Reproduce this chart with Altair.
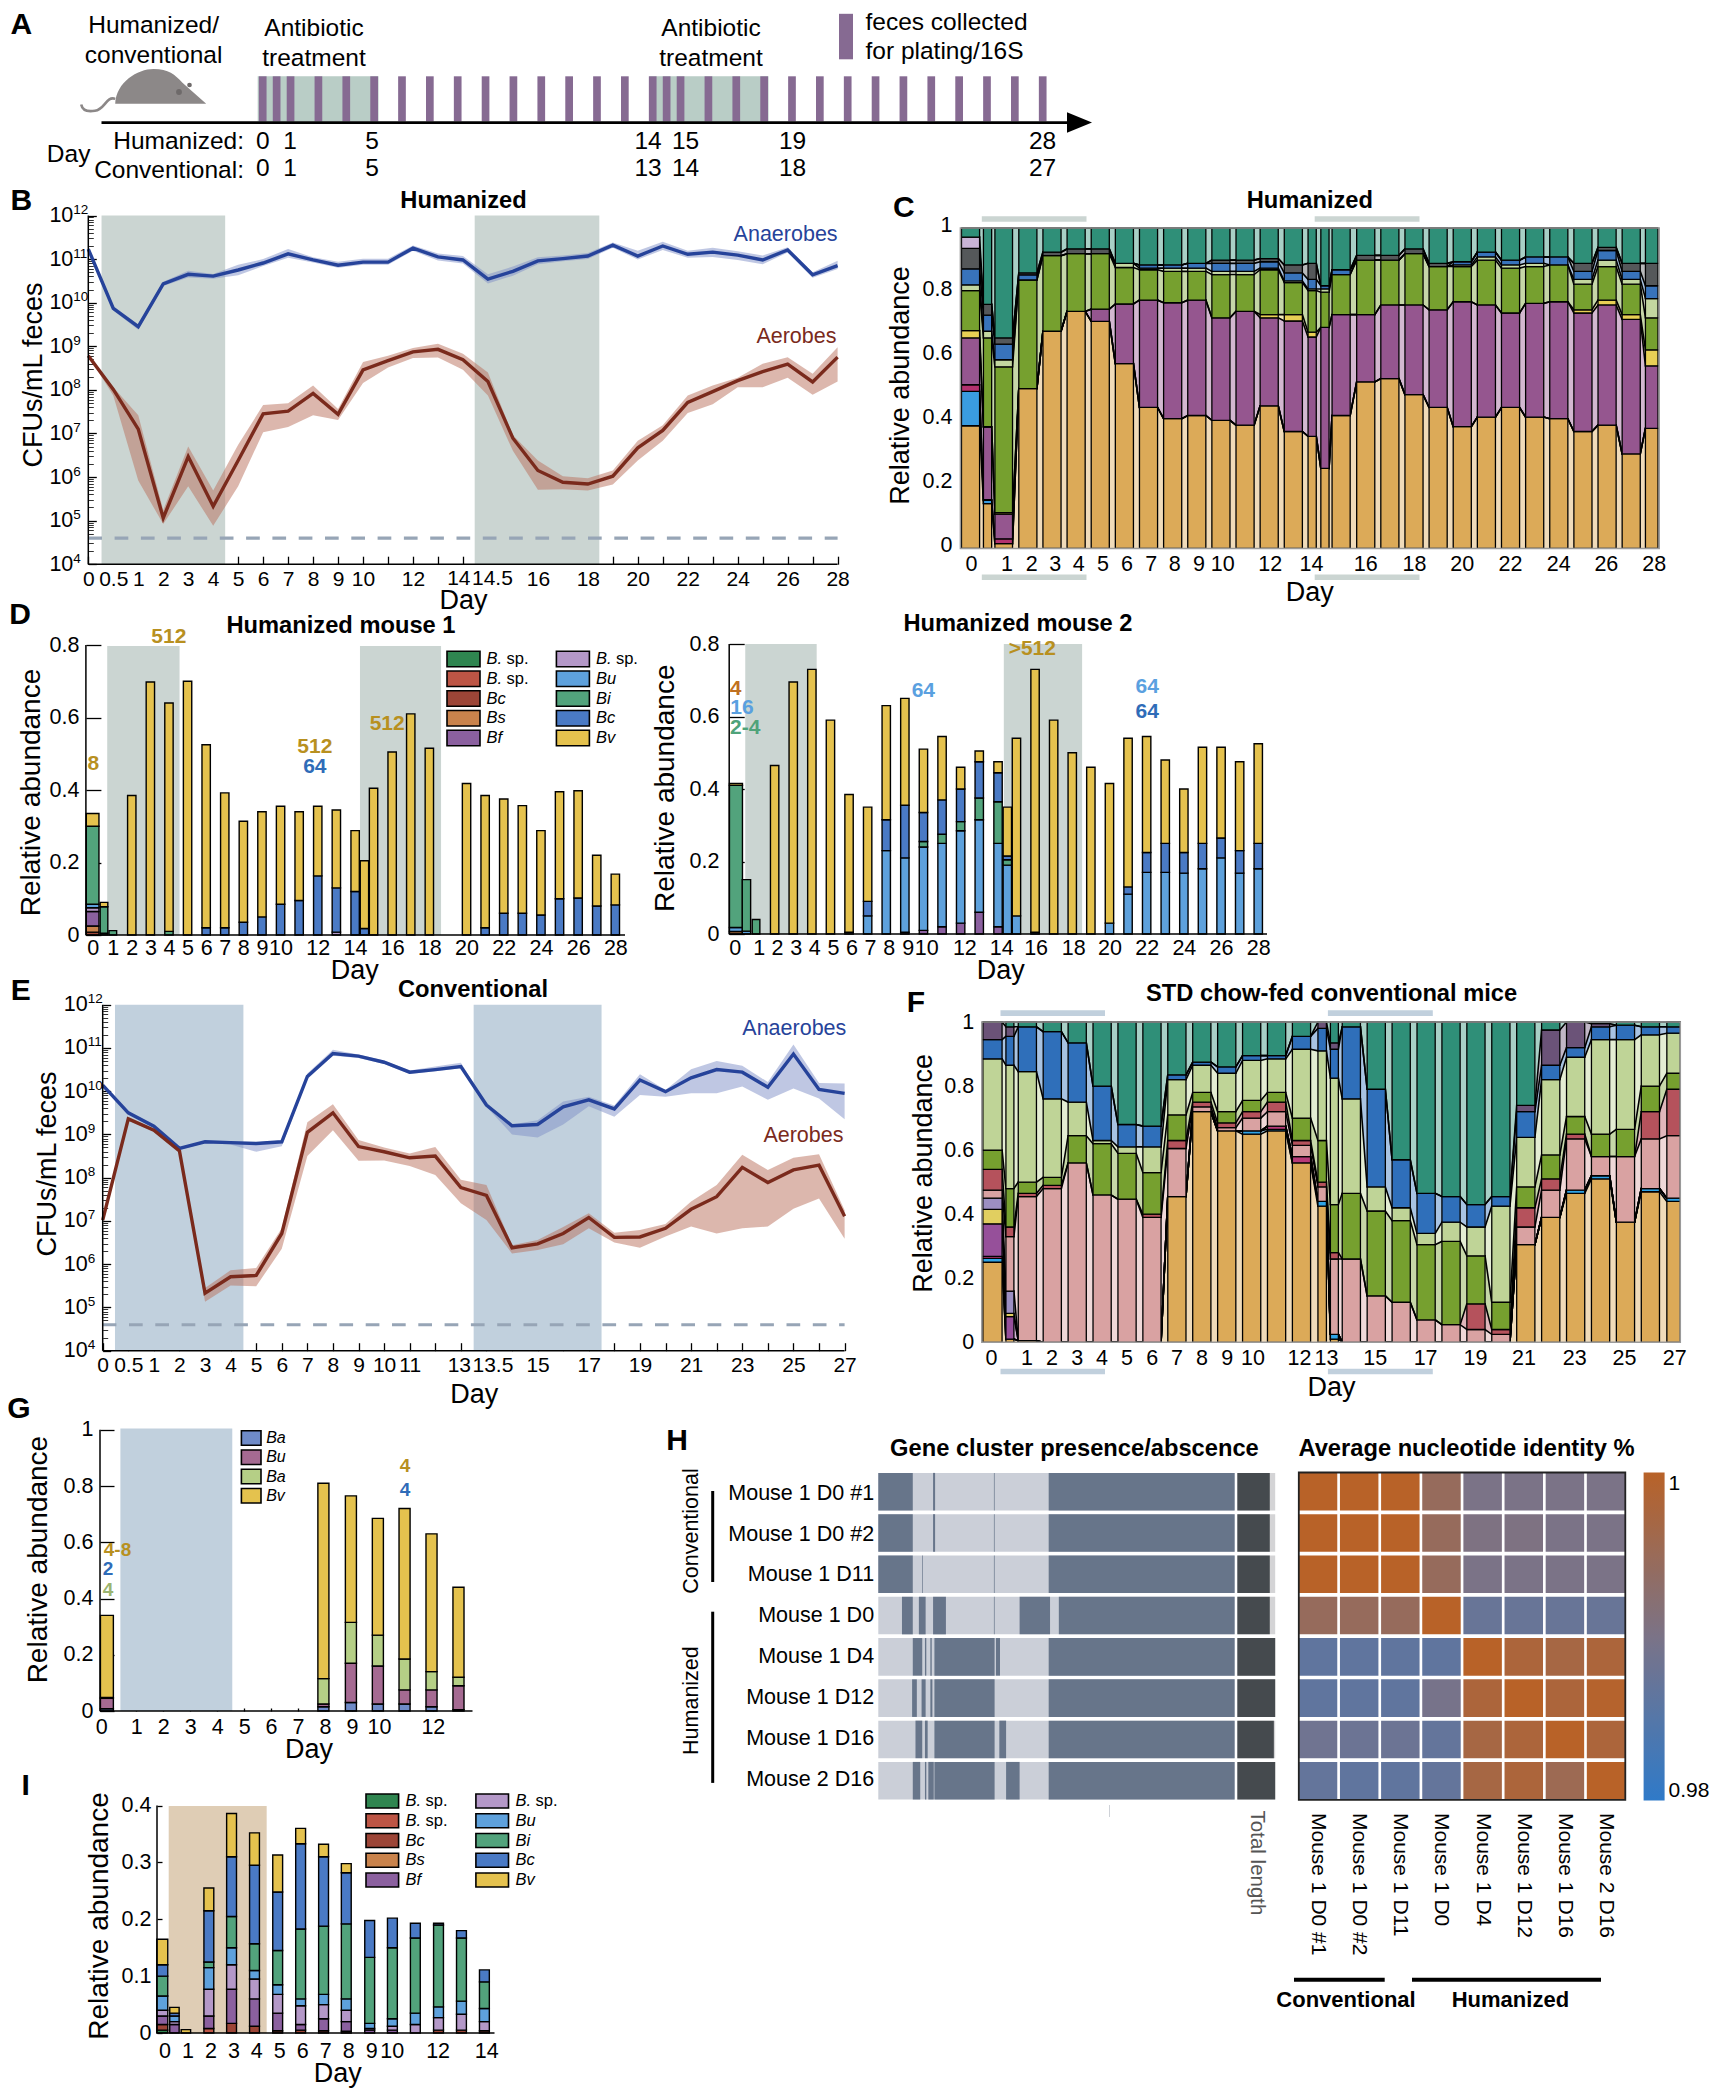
import json
import altair as alt
import pandas as pd

W, H, M = 1704, 2084, 8
F = "Liberation Sans"
ONE = alt.Data(values=[{"a": 1}])

# ---------------- data ----------------
A_SAMPLES = [0, .5, 1, 2, 3, 4, 5, 6, 7, 8, 9, 10, 11, 12, 13, 14, 14.5, 15, 16, 17, 18, 19, 20, 21, 22, 23, 24, 25, 26, 27, 28]
A_SHADES = [(-.18, 4.16), (13.88, 18.16)]

B_LABELS = {0: "0", 1: "0.5", 2: "1", 3: "2", 4: "3", 5: "4", 6: "5", 7: "6", 8: "7", 9: "8", 10: "9", 11: "10", 13: "12",
            18: "16", 20: "18", 22: "20", 24: "22", 26: "24", 28: "26", 30: "28"}
B_AN = [11.23, 9.87, 9.45, 10.43, 10.65, 10.61, 10.75, 10.91, 11.12, 10.98, 10.86, 10.93, 10.93, 11.25, 11.05, 10.98, 10.54, 10.72, 10.96, 11.01, 11.07, 11.32, 11.07, 11.30, 11.11, 11.16, 11.09, 10.98, 11.21, 10.64, 10.85]
B_AN_HI = [.03, .05, .05, .05, .08, .05, .12, .09, .11, .06, .08, .08, .08, .06, .08, .09, .11, .11, .08, .07, .07, .06, .12, .10, .08, .10, .09, .10, .06, .06, .11]
B_AN_LO = [.03, .05, .07, .05, .07, .06, .12, .07, .09, .06, .06, .06, .06, .06, .08, .08, .10, .10, .08, .06, .07, .06, .08, .09, .08, .11, .11, .10, .06, .07, .08]
B_AE = [8.78, 8.01, 7.10, 5.06, 6.47, 5.33, 6.38, 7.45, 7.51, 7.92, 7.44, 8.46, 8.67, 8.87, 8.93, 8.69, 8.19, 6.89, 6.15, 5.88, 5.84, 6.02, 6.67, 7.07, 7.71, 7.96, 8.21, 8.42, 8.59, 8.18, 8.75]
B_AE_HI = [0, .05, .32, .18, .23, .36, .36, .20, .18, .18, .12, .18, .11, .09, .13, .14, .21, .07, .23, .14, .13, .13, .16, .12, .16, .14, .07, .18, .16, .19, .23]
B_AE_LO = [0, .14, 1.18, .14, .68, .45, .59, .42, .36, .50, .13, .30, .16, .14, .19, .23, .32, .29, .44, .16, .15, .19, .29, .24, .24, .29, .15, .36, .31, .29, .56]

E_LABELS = {0: "0", 1: "0.5", 2: "1", 3: "2", 4: "3", 5: "4", 6: "5", 7: "6", 8: "7", 9: "8", 10: "9", 11: "10", 12: "11",
            17: "15", 19: "17", 21: "19", 23: "21", 25: "23", 27: "25", 29: "27"}
E_AN = [10.14, 9.50, 9.19, 8.68, 8.83, 8.81, 8.79, 8.83, 10.34, 10.87, 10.81, 10.67, 10.44, 10.50, 10.57, 9.68, 9.20, 9.23, 9.64, 9.80, 9.59, 10.26, 9.99, 10.31, 10.50, 10.44, 10.09, 10.86, 10.04, 9.95]
E_AN_HI = [0, .02, .01, .02, .02, .02, .03, .03, .07, .09, .04, .04, .04, .07, .09, .03, .03, .1, .12, .07, .08, .13, .04, .2, .2, .15, .12, .22, .15, .23]
E_AN_LO = [.06, .03, .02, .04, .03, .04, .19, .1, .06, .05, .04, .04, .04, .04, .04, .04, .2, .3, .41, .15, .18, .35, .12, .36, .55, .33, .29, .8, .21, .6]
E_AE = [7.02, 9.36, 9.10, 8.62, 5.33, 5.71, 5.74, 6.71, 9.05, 9.50, 8.72, 8.60, 8.46, 8.50, 7.77, 7.59, 6.38, 6.47, 6.71, 7.08, 6.62, 6.63, 6.83, 7.27, 7.56, 8.24, 7.89, 8.18, 8.29, 7.11]
E_AE_HI = [0, .05, .03, .02, .12, .15, .17, .12, .23, .2, .15, .1, .1, .21, .18, .24, .06, .09, .15, .1, .11, .16, .10, .18, .27, .29, .29, .28, .25, .14]
E_AE_LO = [0, .04, .03, .02, .2, .2, .25, .35, .55, .4, .33, .2, .19, .44, .36, .57, .13, .14, .25, .25, .12, .25, .19, .40, .85, 1.41, 1.02, .9, .77, .52]

C_ORDER = ["O", "LB", "M", "P", "Y", "G", "PG", "B", "K", "L", "T"]
C_COLORS = ["#dcaa58", "#3a9ce0", "#b3326f", "#95568f", "#e8cf55", "#76a02f", "#c3d7a0", "#3873bb", "#55585a", "#c9b4d6", "#2f8f78"]
C_POS = [-.375, .33, 1, 2, 3, 4, 5, 6, 7, 8, 9, 10, 11, 12, 13, 13.78, 14.31, 14.98, 16, 17, 18, 19, 20, 21, 22, 23, 24, 25, 26, 27, 27.85]
C_WID = [.75, .34, .73] + [.75] * 12 + [.34, .34] + [.75] * 13 + [.52]
C_BARS = [
    dict(O=.383, LB=.49, M=.511, P=.657, Y=.68, G=.805, PG=.823, B=.873, K=.937, L=.972, T=1),
    dict(O=.14, LB=.15, M=.152, P=.379, Y=.38, G=.657, PG=.678, B=.728, K=.762, T=1),
    dict(O=.015, M=.03, P=.107, Y=.112, G=.567, PG=.589, B=.638, K=.657, T=1),
    dict(O=.499, G=.838, B=.854, K=.86, T=1),
    dict(O=.678, G=.914, K=.925, T=1),
    dict(O=.74, G=.92, K=.935, T=1),
    dict(O=.709, P=.747, G=.92, K=.935, T=1),
    dict(O=.577, P=.763, G=.877, PG=.89, T=1),
    dict(O=.44, P=.775, G=.87, PG=.875, B=.885, T=1),
    dict(O=.405, P=.767, G=.865, PG=.875, B=.885, T=1),
    dict(O=.415, P=.775, G=.865, PG=.875, B=.89, T=1),
    dict(O=.40, P=.72, G=.855, PG=.865, B=.89, K=.9, T=1),
    dict(O=.385, P=.74, G=.855, PG=.865, B=.89, K=.9, T=1),
    dict(O=.445, P=.72, Y=.73, G=.87, PG=.875, B=.895, K=.905, T=1),
    dict(O=.365, P=.71, Y=.73, G=.83, PG=.835, B=.86, K=.885, T=1),
    dict(O=.35, P=.66, Y=.675, G=.805, PG=.81, B=.84, K=.89, T=1),
    dict(O=.25, P=.69, G=.80, PG=.81, B=.82, T=1),
    dict(O=.415, P=.73, G=.855, B=.87, T=1),
    dict(O=.52, P=.73, G=.90, K=.915, T=1),
    dict(O=.53, P=.76, G=.90, K=.915, T=1),
    dict(O=.48, P=.76, G=.92, K=.935, T=1),
    dict(O=.44, P=.745, G=.88, K=.89, T=1),
    dict(O=.38, P=.77, G=.88, PG=.885, B=.895, T=1),
    dict(O=.41, P=.76, G=.90, PG=.91, B=.925, T=1),
    dict(O=.44, P=.735, G=.875, PG=.885, B=.90, T=1),
    dict(O=.41, P=.765, G=.88, PG=.89, B=.91, T=1),
    dict(O=.405, P=.77, G=.885, B=.91, T=1),
    dict(O=.365, P=.735, Y=.745, G=.825, PG=.84, B=.865, K=.89, T=1),
    dict(O=.385, P=.76, Y=.775, G=.88, PG=.9, B=.93, K=.94, T=1),
    dict(O=.295, P=.715, Y=.73, G=.825, PG=.84, B=.865, K=.89, T=1),
    dict(O=.375, P=.57, Y=.62, G=.72, PG=.78, B=.82, K=.89, T=1),
]
C_XV = [-.36, 1.11, 2.14, 3.11, 4.09, 5.09, 6.09, 7.09, 8.07, 9.07, 10.05, 12.02, 13.73, 15.98, 18, 19.98, 21.98, 23.98, 25.95, 27.93]
C_XL = ["0", "1", "2", "3", "4", "5", "6", "7", "8", "9", "10", "12", "14", "16", "18", "20", "22", "24", "26", "28"]

F_ORDER = ["O", "LB", "M", "Pu", "Y", "Lv", "R", "Rd", "G", "PG", "B", "K", "T"]
F_COLORS = ["#dcaa58", "#2fa3e6", "#b83a78", "#96509a", "#e1cf60", "#9c8fc2", "#d9a2a2", "#b5525c", "#76a02f", "#bfd497", "#2f6fba", "#6b5378", "#2f8f78"]
F_POS = [-.4, .3, 1, 2, 3, 4, 5, 6, 7, 8, 9, 10, 11, 12, 12.83, 13.32, 14, 15, 16, 17, 18, 19, 20, 21, 22, 23, 24, 25, 26, 26.93]
F_WID = [.77, .32, .73] + [.73] * 11 + [.34, .32] + [.73] * 13 + [.54]
F_BARS = [
    dict(O=.25, LB=.262, M=.268, Pu=.37, Y=.415, Lv=.45, R=.475, Rd=.54, G=.60, PG=.885, B=.945, K=1, T=1),
    dict(O=.01, Pu=.08, Y=.09, Lv=.16, R=.33, Rd=.36, G=.48, PG=.865, B=.955, K=.985, T=1),
    dict(O=.005, R=.455, Rd=.465, G=.50, PG=.845, B=.985, T=1),
    dict(R=.48, Rd=.49, G=.515, PG=.76, B=.97, T=1),
    dict(R=.56, G=.645, PG=.75, B=.935, T=1),
    dict(R=.46, G=.62, PG=.63, B=.80, T=1),
    dict(R=.447, G=.59, PG=.61, B=.68, T=1),
    dict(R=.39, Rd=.40, G=.53, PG=.61, B=.675, T=1),
    dict(O=.455, R=.605, Rd=.63, G=.71, PG=.82, B=.835, T=1),
    dict(O=.72, R=.735, Rd=.75, G=.78, PG=.865, B=.875, T=1),
    dict(O=.66, R=.67, Rd=.685, G=.72, PG=.84, B=.86, T=1),
    dict(O=.65, LB=.66, R=.70, Rd=.72, G=.755, PG=.88, B=.895, T=1),
    dict(O=.66, LB=.665, M=.675, R=.72, Rd=.75, G=.78, PG=.885, B=.895, T=1),
    dict(O=.56, M=.58, R=.615, Rd=.63, G=.70, PG=.915, B=.955, T=1),
    dict(O=.425, LB=.44, R=.485, Rd=.50, G=.63, PG=.91, B=.98, K=1, T=1),
    dict(O=.01, LB=.025, R=.26, Rd=.28, G=.43, PG=.825, B=.915, K=.935, T=1),
    dict(R=.26, G=.465, PG=.76, B=.985, T=1),
    dict(R=.145, G=.41, PG=.485, B=.79, T=1),
    dict(R=.125, G=.38, PG=.42, B=.57, T=1),
    dict(R=.07, G=.305, PG=.34, B=.465, T=1),
    dict(R=.055, G=.315, PG=.375, B=.455, T=1),
    dict(R=.04, Rd=.12, G=.27, PG=.36, B=.43, T=1),
    dict(R=.025, Rd=.04, G=.125, PG=.425, B=.455, T=1),
    dict(O=.305, R=.36, Rd=.42, G=.485, PG=.64, B=.72, K=.74, T=1),
    dict(O=.39, R=.475, Rd=.51, G=.585, PG=.82, B=.865, K=.975, T=1),
    dict(O=.465, LB=.475, R=.635, Rd=.65, G=.705, PG=.89, B=.92, K=1, T=1),
    dict(O=.51, LB=.52, R=.58, G=.65, PG=.945, B=.985, K=.995, T=1),
    dict(O=.375, R=.58, G=.665, PG=.945, B=.99, T=1),
    dict(O=.47, LB=.48, R=.635, Rd=.72, G=.80, PG=.96, B=.985, T=1),
    dict(O=.44, LB=.45, R=.645, Rd=.79, G=.84, PG=.965, B=.985, T=1),
]
F_XV = [-.46, .96, 1.97, 2.98, 3.97, 4.98, 5.99, 6.98, 7.99, 9, 10.03, 11.9, 12.98, 14.94, 16.96, 18.96, 20.91, 22.94, 24.94, 26.96]
F_XL = ["0", "1", "2", "3", "4", "5", "6", "7", "8", "9", "10", "12", "13", "15", "17", "19", "21", "23", "25", "27"]

SP_ORDER = ["Dg", "Re", "Dr", "Bs", "Bf", "La", "Bu", "Bi", "Bc", "Bv"]
SP_COLORS = ["#2f8550", "#bd5545", "#9c4537", "#c9834c", "#8b609f", "#b498c8", "#5ea1dc", "#52a37c", "#4a7ac5", "#e5c24e"]
SP_ITEMS = [("Dg", "B.", "sp.", 0, 0), ("Re", "B.", "sp.", 0, 1), ("Dr", "Bc", "", 0, 2), ("Bs", "Bs", "", 0, 3), ("Bf", "Bf", "", 0, 4),
            ("La", "B.", "sp.", 1, 0), ("Bu", "Bu", "", 1, 1), ("Bi", "Bi", "", 1, 2), ("Bc", "Bc", "", 1, 3), ("Bv", "Bv", "", 1, 4)]

D1_POS = [-.104, .507, .982, 2, 3, 4, 5, 6, 7, 8, 9, 10, 11, 12, 13, 14.01, 14.51, 15, 16, 17, 18, 20, 21, 22, 23, 24, 25, 26, 27, 28]
D1_WID = [.68, .41, .41] + [.45] * 27
D1_BARS = [
    dict(Dr=.008, Bs=.025, Bf=.065, La=.075, Bu=.085, Bi=.30, Bv=.335), dict(Dg=.005, Bi=.078, Bv=.09), dict(Bi=.012),
    dict(Bv=.385), dict(Bv=.698), dict(Bi=.01, Bv=.64), dict(Bv=.70), dict(Bc=.02, Bv=.525), dict(Bc=.02, Bv=.392),
    dict(Bc=.035, Bv=.314), dict(Bc=.05, Bv=.34), dict(Bc=.085, Bv=.355), dict(Bc=.095, Bv=.34), dict(Bc=.163, Bv=.355),
    dict(La=.008, Bc=.13, Bv=.345), dict(Bc=.12, Bv=.288), dict(Bc=.018, Bv=.205), dict(Bv=.405), dict(Bv=.505), dict(Bv=.61),
    dict(Bv=.515), dict(Bv=.418), dict(Bc=.02, Bv=.385), dict(Bc=.06, Bv=.375), dict(Bc=.06, Bv=.357), dict(Bc=.055, Bv=.288),
    dict(Bc=.10, Bv=.395), dict(Bc=.102, Bv=.398), dict(Bc=.08, Bv=.22), dict(Bc=.083, Bv=.168),
]
D1_XV = [-.104, .982, 2, 3, 4, 5, 6, 7, 8, 9, 10, 12, 14, 16, 18, 20, 22, 24, 26, 28]
D_XL = ["0", "1", "2", "3", "4", "5", "6", "7", "8", "9", "10", "12", "14", "16", "18", "20", "22", "24", "26", "28"]

D2_POS = [-.08, .484, 1, 2, 3, 4, 5, 6, 7, 8, 9, 10, 11, 12, 13, 14.01, 14.51, 15, 16, 17, 18, 19, 20, 21, 22, 23, 24, 25, 26, 27, 28]
D2_WID = [.7, .45, .41] + [.45] * 28
D2_BARS = [
    dict(Bs=.007, Bu=.018, Bi=.41, Bv=.415), dict(Bu=.008, Bi=.15), dict(Bi=.04), dict(Bv=.465), dict(Bv=.695), dict(Bv=.73), dict(Bv=.59),
    dict(Bc=.005, Bv=.385), dict(Bu=.05, Bc=.09, Bv=.35), dict(Bu=.23, Bc=.315, Bv=.63), dict(Bf=.005, Bu=.21, Bc=.355, Bv=.65),
    dict(Bf=.01, Bu=.24, Bi=.255, Bc=.335, Bv=.51), dict(Bf=.02, Bu=.25, Bi=.275, Bc=.37, Bv=.545), dict(Bf=.03, Bu=.285, Bi=.31, Bc=.40, Bv=.46),
    dict(Bf=.06, Bu=.315, Bi=.375, Bc=.475, Bv=.505), dict(Bf=.02, Bu=.25, Bi=.365, Bc=.445, Bv=.475), dict(Bu=.19, Bi=.205, Bc=.215, Bv=.35),
    dict(Bu=.05, Bv=.54), dict(Bc=.005, Bv=.73), dict(Bv=.59), dict(Bv=.50), dict(Bv=.46), dict(Bu=.03, Bv=.415), dict(Bu=.11, Bc=.13, Bv=.54),
    dict(Bu=.17, Bc=.225, Bv=.545), dict(Bu=.17, Bc=.25, Bv=.48), dict(Bu=.168, Bc=.225, Bv=.40), dict(Bu=.18, Bc=.25, Bv=.515),
    dict(Bu=.21, Bc=.265, Bv=.515), dict(Bu=.168, Bc=.23, Bv=.475), dict(Bu=.18, Bc=.25, Bv=.525),
]
D2_XV = [-.15, 1.15, 2.13, 3.13, 4.13, 5.13, 6.13, 7.13, 8.13, 9.15, 10.15, 12.2, 14.18, 16.03, 18.05, 20, 22, 24, 26, 28]

G_ORDER = ["Ba", "Bu", "Ba2", "Bv"]
G_COLORS = ["#6f8bc8", "#a56a92", "#b5cf86", "#e4c24e"]
G_ITEMS = [("Ba", "Ba", "", 0, 0), ("Bu", "Bu", "", 0, 1), ("Ba2", "Ba", "", 0, 2), ("Bv", "Bv", "", 0, 3)]
G_POS = [-.09, 7.94, 8.96, 9.96, 10.95, 11.95, 12.95]
G_WID = [.48, .41, .41, .41, .41, .41, .41]
G_BARS = [
    dict(Ba=.008, Bu=.045, Ba2=.048, Bv=.34), dict(Ba=.015, Bu=.025, Ba2=.115, Bv=.81), dict(Ba=.03, Bu=.17, Ba2=.315, Bv=.765),
    dict(Ba=.025, Bu=.16, Ba2=.27, Bv=.685), dict(Ba=.025, Bu=.075, Ba2=.185, Bv=.72), dict(Ba=.015, Bu=.075, Ba2=.14, Bv=.63),
    dict(Ba=.005, Bu=.09, Ba2=.12, Bv=.44),
]
G_XV = [-.3, 1, 2, 3, 4, 5, 6, 7, 8, 9, 10, 12]
G_XL = ["0", "1", "2", "3", "4", "5", "6", "7", "8", "9", "10", "12"]

I_POS = [-.1, .43, .93, 1.93, 2.92, 3.92, 4.93, 5.93, 6.93, 7.92, 8.94, 9.93, 10.93, 11.94, 12.94, 13.94]
I_WID = [.48, .41, .41] + [.43] * 13
I_BARS = [
    dict(Dg=.005, Dr=.015, Bf=.03, La=.04, Bu=.065, Bi=.10, Bc=.12, Bv=.165), dict(Bf=.015, La=.02, Bu=.03, Bc=.035, Bv=.045), dict(Bv=.006),
    dict(Re=.008, Bf=.03, La=.077, Bu=.115, Bi=.125, Bc=.215, Bv=.255), dict(Dr=.017, Bf=.077, La=.12, Bu=.15, Bi=.205, Bc=.31, Bv=.386),
    dict(Dr=.012, Bf=.06, La=.095, Bu=.11, Bi=.157, Bc=.295, Bv=.352), dict(Dr=.004, Bf=.035, La=.068, Bu=.085, Bi=.145, Bc=.248, Bv=.313),
    dict(Dr=.005, Bf=.015, La=.048, Bu=.06, Bi=.183, Bc=.333, Bv=.36), dict(Dr=.004, Bf=.025, La=.05, Bu=.068, Bi=.188, Bc=.31, Bv=.332),
    dict(Dr=.003, Bf=.02, La=.04, Bu=.06, Bi=.192, Bc=.282, Bv=.298), dict(Bf=.005, La=.008, Bu=.017, Bi=.133, Bc=.198),
    dict(Bf=.005, La=.012, Bu=.025, Bi=.15, Bc=.202), dict(La=.015, Bu=.035, Bi=.167, Bc=.193), dict(Dr=.005, La=.027, Bu=.046, Bi=.19, Bc=.193),
    dict(Dr=.005, La=.033, Bu=.056, Bi=.167, Bc=.18), dict(Dr=.004, La=.02, Bu=.043, Bi=.09, Bc=.111),
]
I_XV = [0, 1, 2, 3, 4, 5, 6, 7, 8, 9.01, 9.9, 11.9, 14.02]
I_XL = ["0", "1", "2", "3", "4", "5", "6", "7", "8", "9", "10", "12", "14"]

H_ROWS = ["Mouse 1 D0 #1", "Mouse 1 D0 #2", "Mouse 1 D11", "Mouse 1 D0", "Mouse 1 D4", "Mouse 1 D12", "Mouse 1 D16", "Mouse 2 D16"]
H_DARK = [
    [(0, 51), (81, 84), (171, 172), (252, 527)],
    [(0, 51), (81, 84), (171, 172), (252, 527)],
    [(0, 51), (65, 66), (171, 172), (252, 527)],
    [(35, 51), (60, 70), (81, 100), (171, 172), (209, 254), (267, 527)],
    [(51, 65), (69, 71), (77, 79), (83, 172), (174, 180), (252, 527)],
    [(50, 57), (64, 70), (77, 80), (83, 172), (252, 527)],
    [(55, 65), (69, 73), (83, 172), (179, 189), (252, 527)],
    [(51, 62), (69, 71), (74, 82), (83, 172), (189, 209), (252, 527)],
]
H_TOTAL_END = [579, 579, 579, 579, 587, 587, 585, 587]
H_ANI = [
    [1, 1, 1, .9945, .99, .99, .99, .99],
    [1, 1, 1, .9945, .9905, .9905, .99, .99],
    [1, 1, 1, .9945, .99, .99, .99, .99],
    [.9945, .9945, .9945, 1, .9875, .9875, .9875, .9875],
    [.9865, .9865, .9865, .9865, 1, .998, .997, .998],
    [.9865, .9865, .9865, .9895, .998, 1, .998, .9995],
    [.9885, .988, .988, .987, .997, .998, 1, .998],
    [.987, .9865, .9865, .987, .997, .998, .9955, 1],
]

GREEN, BLUEG = "#cbd5d2", "#c1d0dd"
GOLD, DBLUE, LBLUE = "#b8901f", "#2f6cb8", "#5aa0e0"
AN_C, AE_C = "#26439a", "#7a2a1c"
TITLE = 23.7


# ---------------- helpers ----------------
def text(s, x, y, size=21.5, bold=False, color="black", align="center", angle=0, italic=False):
    kw = dict(text=s, font=F, fontSize=size, fontWeight="bold" if bold else "normal", color=color, align=align, baseline="middle", angle=angle)
    if italic:
        kw["fontStyle"] = "italic"
    return alt.Chart(ONE).mark_text(**kw).encode(x=alt.value(x - M), y=alt.value(y - M))


def box(x0, x1, y0, y1, fill=None, stroke=None, sw=1.5):
    kw = {}
    kw["fill"] = fill if fill else "transparent"
    if stroke:
        kw.update(stroke=stroke, strokeWidth=sw)
    return alt.Chart(ONE).mark_rect(**kw).encode(x=alt.value(x0 - M), x2=alt.value(x1 - M), y=alt.value(y0 - M), y2=alt.value(y1 - M))


def hline(x0, x1, y, color="black", sw=1.5):
    return alt.Chart(ONE).mark_rule(color=color, strokeWidth=sw).encode(x=alt.value(x0 - M), x2=alt.value(x1 - M), y=alt.value(y - M))


def vline(x, y0, y1, color="black", sw=1.5):
    return alt.Chart(ONE).mark_rule(color=color, strokeWidth=sw).encode(x=alt.value(x - M), y=alt.value(y0 - M), y2=alt.value(y1 - M))


def lin(domain, rng):
    return alt.Scale(domain=domain, range=[rng[0] - M, rng[1] - M], nice=False, zero=False)


def lab(vals, labels):
    d = json.dumps({str(v): l for v, l in zip(vals, labels)}, ensure_ascii=False)
    return f"({d})[datum.value] || ''"


def x_axis(vals, labels, base, tick=0, pad=4, size=21.5, **kw):
    anchor = base - tick
    a = dict(orient="bottom", offset=(anchor - M) - H, values=vals, labelExpr=lab(vals, labels), tickSize=tick, ticks=tick > 0, domain=False, grid=False,
             title=None, labelFont=F, labelFontSize=size, labelColor="black", labelPadding=pad, labelOverlap=False, labelFlush=False, labelBound=False,
             labelAngle=0, tickColor="black", tickWidth=1.3)
    a.update(kw)
    return alt.Axis(**a)


def y_axis(vals, labels, base, tick=0, pad=4, size=21.5, **kw):
    anchor = base + tick
    a = dict(orient="left", offset=-(anchor - M), values=vals, labelExpr=lab(vals, labels), tickSize=tick, ticks=tick > 0, domain=False, grid=False,
             title=None, labelFont=F, labelFontSize=size, labelColor="black", labelPadding=pad, labelOverlap=False, labelFlush=False, labelBound=False,
             tickColor="black", tickWidth=1.3)
    a.update(kw)
    return alt.Axis(**a)


def x_guide(scale, axis, at):
    return alt.Chart(ONE).mark_point(opacity=0).encode(x=alt.X(datum=at, type="quantitative", scale=scale, axis=axis))


def y_guide(scale, axis, at, kind="quantitative"):
    return alt.Chart(ONE).mark_point(opacity=0).encode(y=alt.Y(datum=at, type=kind, scale=scale, axis=axis))


Y_DEC = [10 ** e for e in range(4, 13)]
Y_DEC_BASE = ["10"] * 9
Y_DEC_EXP = [str(e) for e in range(4, 13)]
Y_MINOR = [m * 10 ** e for e in range(4, 12) for m in range(2, 10)]


def log_panel(x0, x1, yt, yb, labels, an, an_hi, an_lo, ae, ae_hi, ae_lo, shades, shade_col):
    n = len(an)
    xs = lin([0, n - 1], (x0, x1))
    ys = alt.Scale(type="log", base=10, domain=[1e4, 1e12], range=[yb - M, yt - M], nice=False)
    xv = list(range(n))
    xl = [labels.get(i, "") for i in xv]
    def frame(v, hi, lo):
        return pd.DataFrame({"i": xv, "y": [10 ** a for a in v], "hi": [10 ** (a + b) for a, b in zip(v, hi)], "lo": [10 ** (a - b) for a, b in zip(v, lo)]})
    df_an, df_ae = frame(an, an_hi, an_lo), frame(ae, ae_hi, ae_lo)
    sh = pd.DataFrame(shades, columns=["a", "b"])
    X = alt.X("i:Q", scale=xs, axis=None)
    Y = alt.Y("y:Q", scale=ys, axis=None)
    layers = [
        alt.Chart(sh).mark_rect(color=shade_col).encode(x=alt.X("a:Q", scale=xs, axis=None), x2="b:Q", y=alt.value(yt - M), y2=alt.value(yb - M)),
        alt.Chart(pd.DataFrame({"i": [0, n - 1], "y": [10 ** 4.6, 10 ** 4.6]})).mark_line(color="#97a5b6", strokeWidth=3.2, strokeDash=[13.7, 12.6]).encode(x=X, y=Y),
        alt.Chart(df_an).mark_area(color="#7f8fc8", opacity=.5, orient="vertical").encode(x=X, y=alt.Y("hi:Q", scale=ys, axis=None), y2="lo:Q"),
        alt.Chart(df_ae).mark_area(color="#b9705c", opacity=.5, orient="vertical").encode(x=X, y=alt.Y("hi:Q", scale=ys, axis=None), y2="lo:Q"),
        alt.Chart(df_an).mark_line(color=AN_C, strokeWidth=3.4).encode(x=X, y=Y),
        alt.Chart(df_ae).mark_line(color=AE_C, strokeWidth=3.4).encode(x=X, y=Y),
    ]
    minor_axis = alt.Axis(orient="left", offset=-(x0 + 5 - M), values=Y_MINOR, labels=False, tickSize=5, tickColor="#333", tickWidth=1, domain=False, grid=False, title=None)
    return [alt.layer(*layers), y_guide(ys, minor_axis, 1e5),
            y_guide(ys, y_axis(Y_DEC, Y_DEC_BASE, x0, tick=8, pad=15.5), 1e5),
            y_guide(ys, y_axis(Y_DEC, Y_DEC_EXP, x0, pad=15.5, size=13.5, labelAlign="left", labelOffset=-6), 1e5),
            x_guide(xs, x_axis(xv, xl, yb, tick=8, pad=4, size=21), 1),
            hline(x0, x1, yb), vline(x0, yt, yb)]


def expand(pos, wid, bars, order):
    rows = []
    for i, (c, w, b) in enumerate(zip(pos, wid, bars)):
        prev = 0
        for sp in order:
            top = b.get(sp, prev)
            rows.append(dict(i=i, x0=c - w / 2, x1=c + w / 2, y0=prev, y1=top, sp=sp))
            prev = top
    return pd.DataFrame(rows)


def color_scale(order, colors):
    return alt.Color("sp:N", scale=alt.Scale(domain=order, range=colors), legend=None)


def stream_panel(x_dom, x_rng, yt, yb, pos, wid, bars, order, colors, xv, xl, lab_y, ylab_right, ylab_off=0):
    xs = lin(x_dom, x_rng)
    ys = lin([0, 1], (yb, yt))
    d = expand(pos, wid, bars, order)
    pts = pd.concat([d.assign(x=d.x0, k=0), d.assign(x=d.x1, k=1)]).sort_values(["sp", "i", "k"])
    col = color_scale(order, colors)
    yv = [0, .2, .4, .6, .8, 1]
    yl = ["0", "0.2", "0.4", "0.6", "0.8", "1"]
    area = alt.Chart(pts).mark_area(opacity=.42, orient="vertical", interpolate="linear").encode(
        x=alt.X("x:Q", scale=xs, axis=None), y=alt.Y("y1:Q", scale=ys, axis=None), y2="y0:Q", color=col)
    line = alt.Chart(pts).mark_line(color="black", strokeWidth=1.6).encode(
        x=alt.X("x:Q", scale=xs, axis=None), y=alt.Y("y1:Q", scale=ys, axis=None), detail="sp:N")
    rect = alt.Chart(d[d.y1 > d.y0]).mark_rect(stroke="black", strokeWidth=1.3).encode(
        x=alt.X("x0:Q", scale=xs, axis=None), x2="x1:Q",
        y=alt.Y("y1:Q", scale=ys, axis=None), y2="y0:Q", color=col)
    return [alt.layer(area, line, rect), box(x_rng[0], x_rng[1], yt, yb, stroke="#9a9a9a", sw=1.5),
            x_guide(xs, x_axis(xv, xl, yb, pad=lab_y - yb - 9.2), 1),
            y_guide(ys, y_axis(yv, yl, x_rng[0], pad=x_rng[0] - ylab_right, labelOffset=ylab_off), .5)]


def bar_panel(x_dom, x_rng, yt, yb, y_max, pos, wid, bars, order, colors, xv, xl, yv, yl, shades, shade_col, lab_y, ylab_right, shade_top, ytick=6, xtick=0):
    xs = lin(x_dom, x_rng)
    ys = lin([0, y_max], (yb, yt))
    d = expand(pos, wid, bars, order)
    d = d[d.y1 > d.y0]
    sh = pd.DataFrame(shades, columns=["a", "b"])
    layers = [
        alt.Chart(sh).mark_rect(color=shade_col).encode(x=alt.X("a:Q", scale=xs, axis=None), x2="b:Q", y=alt.value(shade_top - M), y2=alt.value(yb - M)),
        alt.Chart(d).mark_rect(stroke="black", strokeWidth=1.4).encode(
            x=alt.X("x0:Q", scale=xs, axis=None), x2="x1:Q",
            y=alt.Y("y1:Q", scale=ys, axis=None), y2="y0:Q", color=color_scale(order, colors)),
    ]
    return [alt.layer(*layers), hline(x_rng[0], x_rng[1], yb), vline(x_rng[0], yt, yb),
            x_guide(xs, x_axis(xv, xl, yb, tick=xtick, pad=lab_y - yb - 9.2), 1),
            y_guide(ys, y_axis(yv, yl, x_rng[0], tick=ytick, pad=x_rng[0] - ylab_right), y_max / 2)]


def legend(items, order, colors, xc, y_first, y_last, w, h, dx, size=16.5):
    d = pd.DataFrame(items, columns=["sp", "ital", "plain", "c", "r"])
    nrow = d.r.max()
    xs = lin([0, 1], xc)
    ys = lin([0, nrow], (y_first, y_last))
    k = round(h / w, 3)
    X = alt.X("c:Q", scale=xs, axis=None)
    Y = alt.Y("r:Q", scale=ys, axis=None)
    swatch = alt.Chart(d).mark_point(shape=f"M-1,{-k}L1,{-k}L1,{k}L-1,{k}Z", filled=True, stroke="black", strokeWidth=1.6, opacity=1, size=w * w).encode(x=X, y=Y, color=color_scale(order, colors))
    t1 = alt.Chart(d).mark_text(font=F, fontSize=size, fontStyle="italic", align="left", dx=dx, color="black").encode(x=X, y=Y, text="ital:N")
    t2 = alt.Chart(d[d.plain != ""]).mark_text(font=F, fontSize=size, align="left", dx=dx + 20, color="black").encode(x=X, y=Y, text="plain:N")
    return [alt.layer(swatch, t1, t2)]


panels = []

# ---------------- letters ----------------
for s, x, y in [("A", 21.4, 24.5), ("B", 21.4, 201), ("C", 903.9, 207.6), ("D", 20, 615), ("E", 20.8, 990.7), ("F", 916, 1003), ("G", 19, 1409), ("H", 677, 1441), ("I", 25.7, 1786)]:
    panels.append(text(s, x, y, size=30, bold=True))

# ---------------- A ----------------
xa = lin([0, 28], (262.7, 1042.7))
panels.append(alt.layer(
    alt.Chart(pd.DataFrame(A_SHADES, columns=["a", "b"])).mark_rect(color="#b9cdc6").encode(x=alt.X("a:Q", scale=xa, axis=None), x2="b:Q", y=alt.value(76.3 - M), y2=alt.value(121.4 - M)),
    alt.Chart(pd.DataFrame({"d": A_SAMPLES})).mark_rule(color="#866a92", strokeWidth=7.7).encode(x=alt.X("d:Q", scale=xa, axis=None), y=alt.value(76.3 - M), y2=alt.value(121.4 - M)),
))
panels.append(hline(101.5, 1072, 122.6, sw=2.6))
panels.append(alt.Chart(ONE).mark_point(shape="M-1,-.82L1,0L-1,.82Z", filled=True, color="black", opacity=1, size=625).encode(x=alt.value(1079.5 - M), y=alt.value(122.6 - M)))
panels.append(alt.Chart(ONE).mark_point(shape="M-.456,.186C-.44,-.16 -.1,-.37 .158,-.37C.4,-.37 .5,-.28 .62,-.15L1,.186Z", filled=True, color="#8c8888", opacity=1, size=15625).encode(x=alt.value(143.7 - M), y=alt.value(92 - M)))
panels.append(alt.Chart(ONE).mark_point(shape="M-.456,.11C-.6,.06 -.62,.28 -.78,.3C-.9,.32 -.98,.3 -1,.2", filled=False, color="#8c8888", strokeWidth=2.6, opacity=1, size=15625).encode(x=alt.value(143.7 - M), y=alt.value(92 - M)))
panels.append(alt.Chart(ONE).mark_point(shape="circle", filled=True, color="#6e6a6a", opacity=1, size=34).encode(x=alt.value(179 - M), y=alt.value(92 - M)))
panels.append(alt.Chart(ONE).mark_point(shape="circle", filled=True, color="#6e6a6a", opacity=1, size=22).encode(x=alt.value(189.5 - M), y=alt.value(85 - M)))
for s, x, y in [("Humanized/", 153.6, 26), ("conventional", 153.6, 55.6), ("Antibiotic", 314, 28.7), ("treatment", 314, 58.5), ("Antibiotic", 711, 28.7), ("treatment", 711, 58.5), ("Day", 68.6, 155.4)]:
    panels.append(text(s, x, y, size=24.5))
panels.append(box(839, 853, 13.8, 59.3, fill="#866a92"))
panels.append(text("feces collected", 865.5, 22.5, size=24.5, align="left"))
panels.append(text("for plating/16S", 865.5, 52.2, size=24.5, align="left"))
panels.append(text("Humanized:", 244, 141.6, size=24.5, align="right"))
panels.append(text("Conventional:", 244, 170.8, size=24.5, align="right"))
for x, a, b in [(262.7, "0", "0"), (290, "1", "1"), (372, "5", "5"), (648, "14", "13"), (685.6, "15", "14"), (792.6, "19", "18"), (1042.6, "28", "27")]:
    panels.append(text(a, x, 141.6, size=24.5))
    panels.append(text(b, x, 168.8, size=24.5))

# ---------------- B ----------------
panels += log_panel(88.3, 837.6, 215.5, 564.2, B_LABELS, B_AN, B_AN_HI, B_AN_LO, B_AE, B_AE_HI, B_AE_LO, [(.53, 5.48), (15.47, 20.46)], GREEN)
panels += [text("Humanized", 463.5, 200.5, size=TITLE, bold=True), text("Day", 463.5, 601, size=27), text("CFUs/mL feces", 34, 375, size=27, angle=270),
           text("Anaerobes", 837.6, 235, color=AN_C, align="right"), text("Aerobes", 836.5, 337, color=AE_C, align="right"),
           text("14", 470.5, 579, size=21, align="right"), text("14.5", 472, 579, size=21, align="left")]

# ---------------- C ----------------
panels += stream_panel([-.795, 28.16], (960.4, 1659.2), 228.1, 548.4, C_POS, C_WID, C_BARS, C_ORDER, C_COLORS, C_XV, C_XL, 562.4, 952, ylab_off=-2.7)
panels += [text("Humanized", 1309.8, 200.5, size=TITLE, bold=True), text("Day", 1309.8, 593, size=27), text("Relative abundance", 901, 385.5, size=27, angle=270)]
for x0, x1 in [(981.8, 1086.5), (1314.7, 1419.5)]:
    panels += [box(x0, x1, 216.3, 221.8, fill=GREEN), box(x0, x1, 574.5, 580, fill=GREEN)]

# ---------------- D ----------------
DY = [0, .2, .4, .6, .8]
DYL = ["0", "0.2", "0.4", "0.6", "0.8"]
panels += bar_panel([-.466, 28.52], (85.9, 625), 645, 935, .8, D1_POS, D1_WID, D1_BARS, SP_ORDER, SP_COLORS, D1_XV, D_XL, DY, DYL, [(.68, 4.57), (14.27, 18.63)], GREEN, 946.5, 79, 646, ytick=15)
panels += [text("Humanized mouse 1", 341, 626, size=TITLE, bold=True), text("Day", 354.8, 971, size=27), text("Relative abundance", 31.6, 792.5, size=28, angle=270)]
for s, x, y, c in [("512", 168.8, 637.3, GOLD), ("8", 93.4, 764.3, GOLD), ("512", 314.8, 747.3, GOLD), ("64", 314.8, 766.7, DBLUE), ("512", 387.2, 724, GOLD)]:
    panels.append(text(s, x, y, size=21, bold=True, color=c))
panels += legend(SP_ITEMS, SP_ORDER, SP_COLORS, (463.5, 572.9), 659, 738, 33, 15.4, 23)

panels += bar_panel([-.443, 28.47], (729.2, 1267), 644, 934, .8, D2_POS, D2_WID, D2_BARS, SP_ORDER, SP_COLORS, D2_XV, D_XL, DY, DYL, [(.42, 4.26), (14.32, 18.53)], GREEN, 946.5, 719, 644, ytick=15)
panels += [text("Humanized mouse 2", 1018, 624, size=TITLE, bold=True), text("Day", 1000.7, 971, size=27), text("Relative abundance", 666, 788.3, size=28, angle=270)]
for s, x, y, c in [("4", 735.5, 689, "#c07020"), ("16", 741.9, 708.3, LBLUE), ("2-4", 745.2, 728.3, "#4fa37a"), ("64", 923.3, 691, LBLUE), (">512", 1032.3, 648.7, GOLD), ("64", 1147.2, 687.3, LBLUE), ("64", 1147.2, 711.7, DBLUE)]:
    panels.append(text(s, x, y, size=21, bold=True, color=c))

# ---------------- E ----------------
panels += log_panel(102.7, 844.6, 1004.7, 1350.7, E_LABELS, E_AN, E_AN_HI, E_AN_LO, E_AE, E_AE_HI, E_AE_LO, [(.48, 5.5), (14.5, 19.5)], BLUEG)
panels += [text("Conventional", 473, 990, size=TITLE, bold=True), text("Day", 474.2, 1395, size=27), text("CFUs/mL feces", 47.7, 1164, size=27, angle=270),
           text("Anaerobes", 846.3, 1029.3, color=AN_C, align="right"), text("Aerobes", 843.5, 1136, color=AE_C, align="right"),
           text("13", 471, 1365.7, size=21, align="right"), text("13.5", 472.5, 1365.7, size=21, align="left")]

# ---------------- F ----------------
panels += stream_panel([-.828, 27.2], (981.8, 1680.3), 1022, 1342.3, F_POS, F_WID, F_BARS, F_ORDER, F_COLORS, F_XV, F_XL, 1356.5, 973.7)
panels += [text("STD chow-fed conventional mice", 1331.6, 994.3, size=TITLE, bold=True), text("Day", 1331.6, 1388, size=27), text("Relative abundance", 923.9, 1173.3, size=27, angle=270)]
for x0, x1 in [(1000.5, 1105), (1327.9, 1432.8)]:
    panels += [box(x0, x1, 1010.3, 1016, fill=BLUEG), box(x0, x1, 1368.7, 1374.3, fill=BLUEG)]

# ---------------- G ----------------
panels += bar_panel([-.346, 13.47], (100, 472.5), 1429.8, 1711, 1, G_POS, G_WID, G_BARS, G_ORDER, G_COLORS, G_XV, G_XL, [0, .2, .4, .6, .8, 1], ["0", "0.2", "0.4", "0.6", "0.8", "1"], [(.41, 4.56)], BLUEG, 1726, 93, 1428.5, ytick=14, xtick=3)
panels += [text("Day", 309, 1749.7, size=27), text("Relative abundance", 38.8, 1559.6, size=28, angle=270)]
for s, x, y, c in [("4-8", 117.5, 1550, GOLD), ("2", 108, 1569.3, DBLUE), ("4", 108, 1590.4, "#9cb570"), ("4", 405, 1466.3, GOLD), ("4", 405, 1489.6, DBLUE)]:
    panels.append(text(s, x, y, size=19, bold=True, color=c))
panels += legend(G_ITEMS, G_ORDER, G_COLORS, (251.2, 300), 1438, 1495.8, 19.6, 14.5, 15, size=16)

# ---------------- I ----------------
panels += bar_panel([-.33, 14.38], (157, 494.5), 1805.6, 2033, .4, I_POS, I_WID, I_BARS, SP_ORDER, SP_COLORS, I_XV, I_XL, [0, .1, .2, .3, .4], ["0", "0.1", "0.2", "0.3", "0.4"], [(.18, 4.45)], "#dfcdb5", 2049.3, 151, 1806, ytick=5)
panels += [text("Day", 337.8, 2074.4, size=27), text("Relative abundance", 100, 1916, size=28, angle=270)]
panels += legend(SP_ITEMS, SP_ORDER, SP_COLORS, (382.3, 492.2), 1801, 1880, 32.6, 14, 23.3)

# ---------------- H ----------------
seg = []
for r, (row, dark, end) in enumerate(zip(H_ROWS, H_DARK, H_TOTAL_END)):
    seg.append(dict(row=row, a=0, b=527, kind="light"))
    seg.append(dict(row=row, a=531, b=587, kind="edge"))
    seg += [dict(row=row, a=a, b=b, kind="dark") for a, b in dark]
    seg.append(dict(row=row, a=531, b=end, kind="total"))
seg = pd.DataFrame(seg)
seg["ord"] = seg.kind.map({"light": 0, "edge": 0, "dark": 1, "total": 1})
ysc_h = alt.Scale(domain=H_ROWS, range=[1472.9 - M, 1799.5 - M], paddingInner=.09, paddingOuter=0)
panels.append(alt.layer(*[
    alt.Chart(seg[seg.ord == o]).mark_rect().encode(
        x=alt.X("a:Q", scale=lin([0, 587], (878.3, 1275.2)), axis=None), x2="b:Q",
        y=alt.Y("row:N", scale=ysc_h, sort=None, axis=None),
        color=alt.Color("kind:N", scale=alt.Scale(domain=["light", "edge", "dark", "total"], range=["#cbcfd8", "#d4d4d6", "#67758a", "#454a4e"]), legend=None))
    for o in (0, 1)]))
panels.append(y_guide(ysc_h, y_axis(H_ROWS, H_ROWS, 878.3, pad=4.7, size=21.5), H_ROWS[0], kind="nominal"))

ani = pd.DataFrame([dict(row=r, col=c, v=v) for r, vals in zip(H_ROWS, H_ANI) for c, v in zip(H_ROWS, vals)])
panels.append(alt.Chart(ani).mark_rect().encode(
    x=alt.X("col:N", sort=None, scale=alt.Scale(domain=H_ROWS, range=[1298.8 - M, 1625.3 - M], paddingInner=.065, paddingOuter=0),
            axis=x_axis(H_ROWS, H_ROWS, 1799.5, pad=13, size=21, labelAngle=90, labelAlign="left", labelBaseline="middle")),
    y=alt.Y("row:N", sort=None, scale=ysc_h, axis=None),
    color=alt.Color("v:Q", scale=alt.Scale(domain=[.98, .99, 1], range=["#2f7ac8", "#7b7387", "#b86228"], interpolate="rgb"),
                    legend=alt.Legend(orient="none", legendX=1643.6 - M, legendY=1472.5 - M, gradientLength=328, gradientThickness=21, direction="vertical",
                                      values=[.98, 1], title=None, labelExpr="datum.value == 1 ? '1' : '0.98'", labelFont=F, labelFontSize=21, labelColor="black", labelOffset=4))))
panels += [box(1298.8, 1625.3, 1472.5, 1799.8, stroke="#222", sw=1.8)]
panels += [text("Gene cluster presence/abscence", 1074.4, 1448.7, size=TITLE, bold=True), text("Average nucleotide identity %", 1466.5, 1448.7, size=TITLE, bold=True),
           text("Conventional", 691.8, 1531, size=21.5, angle=270), text("Humanized", 691.8, 1700.6, size=21.5, angle=270),
           vline(712.7, 1491, 1582, sw=3), vline(712.7, 1611.7, 1782.9, sw=3),
           text("Total length", 1257, 1863, size=20.5, color="#555", angle=90),
           vline(1109.5, 1805, 1817, color="#cfd2d8", sw=1),
           hline(1294, 1384.7, 1979.8, sw=4), hline(1412, 1601, 1979.8, sw=4),
           text("Conventional", 1346, 1999.9, size=22, bold=True), text("Humanized", 1510.4, 1999.9, size=22, bold=True)]

chart = alt.layer(*panels).resolve_scale(x="independent", y="independent", color="independent").properties(
    width=W, height=H, padding=0, autosize=alt.AutoSizeParams(type="none", contains="padding"), background="white"
).configure_view(stroke=None)

chart.save("out.html", embed_options={"renderer": "svg", "actions": False})
